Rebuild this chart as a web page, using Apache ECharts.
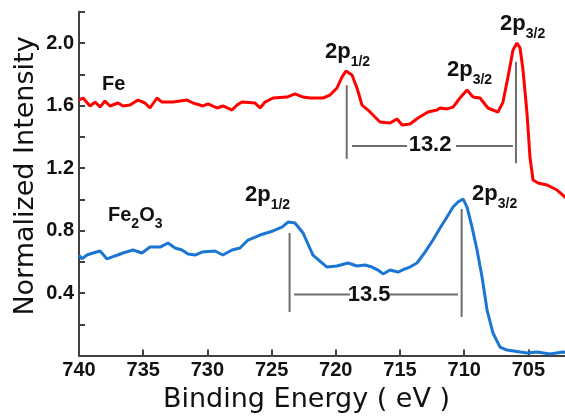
<!DOCTYPE html>
<html><head><meta charset="utf-8">
<script src="https://cdn.jsdelivr.net/npm/echarts@6/dist/echarts.min.js"></script>
<style>html,body{margin:0;padding:0;background:#fff}#c{width:565px;height:416px}</style>
</head><body><div id="c"></div>
<script>
// ---- data ----
const feEnergy = [740.0,739.69,739.14,738.75,738.36,737.98,737.59,736.96,736.57,736.03,735.40,734.86,734.47,733.93,733.54,732.68,731.59,731.12,730.34,729.95,729.25,728.79,728.08,727.69,727.31,726.29,725.90,725.51,724.89,723.80,723.18,722.55,722.01,721.00,720.45,719.91,719.52,719.21,718.74,718.35,717.96,717.49,716.95,716.56,715.78,715.23,714.84,714.22,713.60,712.82,712.12,711.88,711.34,710.87,710.33,709.78,709.31,708.77,708.15,707.37,706.98,706.59,706.20,705.89,705.65,705.42,705.11,704.88,704.64,704.25,703.55,702.77,702.15,701.8];
const feIntensity = [1.635,1.648,1.597,1.622,1.590,1.629,1.597,1.616,1.597,1.603,1.635,1.616,1.584,1.648,1.622,1.622,1.635,1.616,1.597,1.610,1.584,1.597,1.571,1.603,1.622,1.616,1.584,1.622,1.648,1.654,1.674,1.654,1.648,1.648,1.667,1.712,1.782,1.821,1.795,1.712,1.603,1.571,1.526,1.494,1.488,1.514,1.475,1.482,1.520,1.558,1.571,1.584,1.578,1.590,1.648,1.699,1.654,1.648,1.584,1.558,1.622,1.782,1.955,2.000,1.968,1.827,1.552,1.270,1.123,1.104,1.091,1.059,1.014,1.0];
const oxEnergy = [740.0,739.77,739.38,738.91,738.36,737.82,737.20,736.57,735.79,735.09,734.47,733.69,733.07,732.52,731.98,731.51,730.97,730.42,729.41,728.79,728.08,727.46,726.84,725.90,724.89,724.19,723.72,723.18,722.55,721.78,720.69,719.91,719.05,718.35,717.73,717.18,716.71,716.32,715.78,715.16,714.61,714.22,713.68,713.05,712.43,711.88,711.34,710.87,710.48,710.09,709.78,709.39,709.00,708.61,708.22,707.76,707.21,706.67,705.11,704.33,703.32,702.30,701.8];
const oxIntensity = [0.643,0.618,0.643,0.656,0.669,0.618,0.637,0.656,0.675,0.656,0.694,0.694,0.720,0.688,0.675,0.650,0.643,0.662,0.669,0.643,0.675,0.688,0.739,0.771,0.797,0.822,0.854,0.848,0.784,0.643,0.566,0.573,0.592,0.573,0.579,0.566,0.547,0.522,0.547,0.534,0.554,0.566,0.592,0.662,0.739,0.816,0.886,0.950,0.982,1.002,0.950,0.822,0.675,0.502,0.291,0.144,0.054,0.035,0.016,0.022,0.010,0.022,0.02];

// peak markers (eV) and their vertical extents
const feMarkX = [719.15, 705.97];
const feMarkTop = [1.73, 1.88];
const feMarkBottom = [1.26, 1.23];
const feSpanY = 1.341;
const feSpanParts = [[718.74, 714.45], [710.64, 706.2]];
const feSpanLabel = '13.2';
const feSpanLabelPos = [712.66, 1.35];

const oxMarkX = [723.6, 710.2];
const oxMarkTop = [0.784, 0.938];
const oxMarkBottom = [0.278, 0.246];
const oxSpanY = 0.39;
const oxSpanParts = [[723.26, 718.89], [715.78, 710.48]];
const oxSpanLabel = '13.5';
const oxSpanLabelPos = [717.41, 0.387];

// text annotations: parts [text, 'm'|'s'], left edge (eV), baseline (intensity)
const annoParts = [
  [['Fe','m']],
  [['Fe','m'],['2','s'],['O','m'],['3','s']],
  [['2p','m'],['1/2','s']],
  [['2p','m'],['3/2','s']],
  [['2p','m'],['3/2','s']],
  [['2p','m'],['1/2','s']],
  [['2p','m'],['3/2','s']]
];
const annoMainSize = [20, 20, 22, 22, 22, 22, 22];
const annoX = [738.21, 737.74, 720.84, 711.34, 707.21, 727.07, 709.39];
const annoY = [1.693, 0.854, 1.891, 1.776, 2.070, 0.976, 0.982];

const xMin = 702.15, xMax = 740;
const xTickValues = [740, 735, 730, 725, 720, 715, 710, 705];
const yMin = 0, yMax = 2.2, yStep = 0.2, yLabelStep = 0.4;
const xTitle = 'Binding Energy ( eV )';
const yTitle = 'Normalized Intensity';

// ---- chart ----
const chart = echarts.init(document.getElementById('c'), null, {renderer: 'canvas'});
const axisColor = '#404040';
const markColor = '#6e6e6e';
const zip = (a, b) => a.map((v, i) => [v, b[i]]);

const segs = [];
feMarkX.forEach((x, i) => segs.push([[x, feMarkBottom[i]], [x, feMarkTop[i]]]));
feSpanParts.forEach(p => segs.push([[p[0], feSpanY], [p[1], feSpanY]]));
oxMarkX.forEach((x, i) => segs.push([[x, oxMarkBottom[i]], [x, oxMarkTop[i]]]));
oxSpanParts.forEach(p => segs.push([[p[0], oxSpanY], [p[1], oxSpanY]]));

const series = [
  {type: 'line', data: zip(feEnergy, feIntensity), showSymbol: false, symbol: 'none',
   lineStyle: {color: '#ff0000', width: 3}, z: 3},
  {type: 'line', data: zip(oxEnergy, oxIntensity), showSymbol: false, symbol: 'none',
   lineStyle: {color: '#1a76d2', width: 3}, z: 3}
];
segs.forEach(s => series.push({type: 'line', data: s, symbol: 'none', silent: true,
  lineStyle: {color: markColor, width: 2}, z: 2}));

chart.setOption({
  animation: false,
  backgroundColor: '#fff',
  grid: {left: 79, right: 0, top: 11.75, bottom: 60.5, containLabel: false, outerBoundsMode: 'none'},
  xAxis: {
    type: 'value', inverse: true, min: xMin, max: xMax,
    axisLine: {lineStyle: {color: axisColor, width: 2}},
    axisTick: {inside: true, length: 6, customValues: xTickValues, lineStyle: {color: axisColor, width: 2}},
    axisLabel: {color: '#111', fontFamily: 'Liberation Sans', fontWeight: 'bold', fontSize: 20, margin: 5,
      customValues: xTickValues},
    splitLine: {show: false}
  },
  yAxis: {
    type: 'value', min: yMin, max: yMax, interval: yStep,
    axisLine: {show: true, lineStyle: {color: axisColor, width: 2}},
    axisTick: {show: true, inside: true, length: 6, lineStyle: {color: axisColor, width: 2}},
    axisLabel: {color: '#111', fontFamily: 'Liberation Sans', fontWeight: 'bold', fontSize: 20, margin: 5,
      showMinLabel: true, showMaxLabel: true,
      formatter: v => {
        const r = v / yLabelStep;
        return (v > 0.01 && Math.abs(r - Math.round(r)) < 1e-6) ? v.toFixed(1) : '';
      }},
    splitLine: {show: false}
  },
  series: series
});

// ---- text ----
const ctx = document.createElement('canvas').getContext('2d');
function tw(t, size) { ctx.font = 'bold ' + size + 'px "Liberation Sans"'; return ctx.measureText(t).width; }
const graphics = [];
const subSize = 14, subDrop = 7, mid = 0.347;
annoParts.forEach((parts, i) => {
  const p = chart.convertToPixel({gridIndex: 0}, [annoX[i], annoY[i]]);
  let x = p[0];
  parts.forEach(([t, k]) => {
    const fs = k === 'm' ? annoMainSize[i] : subSize;
    const base = k === 'm' ? p[1] : p[1] + subDrop;
    graphics.push({type: 'text', x: x, y: base - mid * fs, z: 10,
      style: {text: t, font: 'bold ' + fs + 'px "Liberation Sans"', fill: '#111', align: 'left', verticalAlign: 'middle'}});
    x += tw(t, fs);
  });
});
[[feSpanLabel, feSpanLabelPos], [oxSpanLabel, oxSpanLabelPos]].forEach(([t, pos]) => {
  const p = chart.convertToPixel({gridIndex: 0}, pos);
  graphics.push({type: 'text', x: p[0], y: p[1], z: 10,
    style: {text: t, font: 'bold 22px "Liberation Sans"', fill: '#111', align: 'center', verticalAlign: 'middle'}});
});
graphics.push({type: 'text', x: 306.5, y: 400, z: 10,
  style: {text: xTitle, font: '27px "DejaVu Sans"', fill: '#111', align: 'center', verticalAlign: 'middle'}});
graphics.push({type: 'text', x: 26, y: 176, rotation: Math.PI / 2, z: 10,
  style: {text: yTitle, font: '27px "DejaVu Sans"', fill: '#111', align: 'center', verticalAlign: 'middle'}});
chart.setOption({graphic: graphics});
</script></body></html>
